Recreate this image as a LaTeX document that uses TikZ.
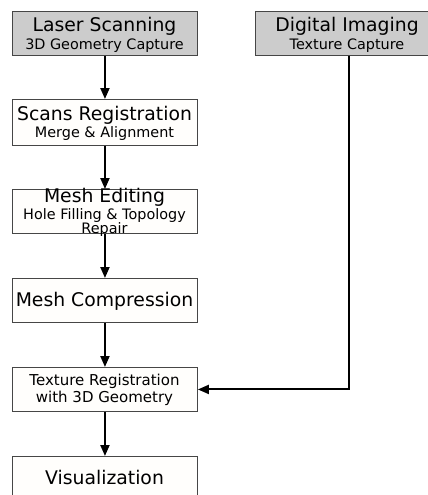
\documentclass[tikz,border=0pt]{standalone}
\usepackage{fontspec}
\setmainfont{DejaVu Sans}
\usetikzlibrary{arrows.meta}
\definecolor{boxline}{RGB}{70,70,70}
\definecolor{boxgray}{RGB}{204,204,204}
\definecolor{boxwhite}{RGB}{255,254,252}
\begin{document}
\begin{tikzpicture}[x=1pt,y=-1pt,
  box/.style={draw=boxline, line width=0.9pt, fill=boxwhite, minimum width=185pt,
    minimum height=44pt, inner sep=0pt, anchor=north west},
  graybox/.style={box, fill=boxgray},
  title/.style={anchor=base, inner sep=0pt, font=\fontsize{18.8}{20}\selectfont},
  sub/.style={anchor=base, inner sep=0pt, font=\fontsize{14.4}{16}\selectfont},
  arr/.style={line width=2pt, -{Triangle[length=11pt,width=9pt]}}]
\useasboundingbox (0,0) rectangle (428,495);

% process boxes
\node[graybox] (laser) at (12,11) {};
\node[graybox, minimum width=172.5pt] (digital) at (255,11) {};
\node[box, minimum height=46pt] (scans) at (12,99) {};
\node[box] (editing) at (12,189) {};
\node[box] (compress) at (12,278) {};
\node[box] (texreg) at (12,367) {};
\node[box] (visual) at (12,456) {};

% labels
\node[title] (laserT) at (104.5,31.7) {Laser Scanning};
\node[sub] (laserS) at (104.5,49) {3D Geometry Capture};
\node[title] (digitalT) at (347,31.7) {Digital Imaging};
\node[sub] (digitalS) at (347,49) {Texture Capture};
\node[title] (scansT) at (104.5,120.7) {Scans Registration};
\node[sub] (scansS) at (104.5,137.3) {Merge \& Alignment};
\node[title] (editingT) at (104.5,202.7) {Mesh Editing};
\node[sub] (editingS) at (104.5,219) {Hole Filling \& Topology};
\node[sub] (editingR) at (104.5,233.3) {Repair};
\node[title] (compressT) at (104.5,306.7) {Mesh Compression};
\node[sub, font=\fontsize{15}{17}\selectfont] (texregA) at (104.5,385) {Texture Registration};
\node[sub, font=\fontsize{15}{17}\selectfont] (texregB) at (104.5,402.7) {with 3D Geometry};
\node[title] (visualT) at (104.5,484.3) {Visualization};

% connectors
\coordinate (drop) at (349,0);
\draw[arr] (laser.south) -- (scans.north);
\draw[arr] (scans.south) -- (editing.north);
\draw[arr] (editing.south) -- (compress.north);
\draw[arr] (compress.south) -- (texreg.north);
\draw[arr] (texreg.south) -- (visual.north);
\draw[arr] (digital.south -| drop) |- (texreg.east);
\end{tikzpicture}
\end{document}
